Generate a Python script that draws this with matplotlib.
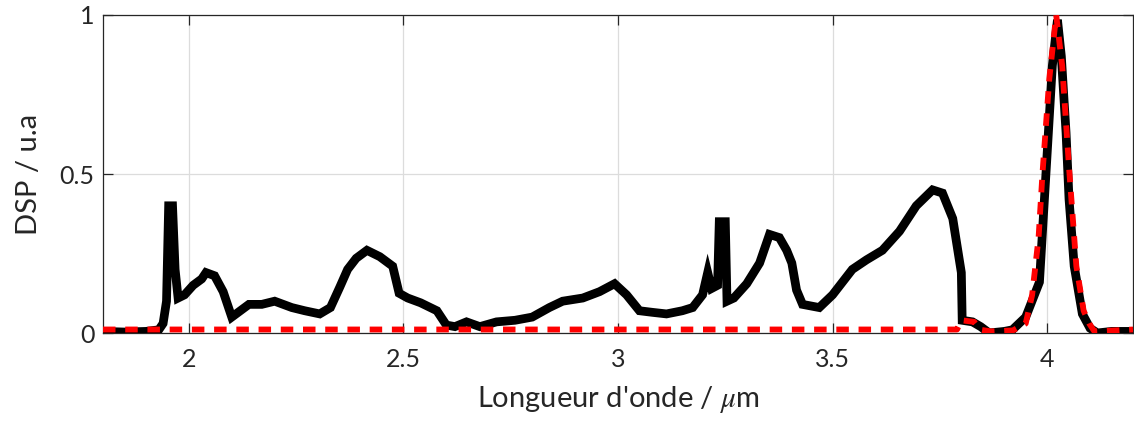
import matplotlib
matplotlib.use("Agg")
import matplotlib.pyplot as plt

# Data
black_x = [1.80, 1.85, 1.90, 1.93, 1.94, 1.948, 1.953, 1.962, 1.968, 1.975, 1.99, 2.01, 2.03, 2.04,
           2.06, 2.08, 2.10, 2.12, 2.14, 2.17, 2.20, 2.24, 2.27, 2.305, 2.33, 2.352, 2.37, 2.39, 2.415,
           2.445, 2.475, 2.49, 2.51, 2.54, 2.578, 2.60, 2.62, 2.647, 2.678, 2.717, 2.76, 2.80, 2.84,
           2.871, 2.918, 2.957, 2.992, 3.02, 3.05, 3.08, 3.113, 3.15, 3.174, 3.197, 3.209, 3.218,
           3.232, 3.236, 3.25, 3.254, 3.27, 3.30, 3.33, 3.353, 3.376, 3.393, 3.405, 3.416, 3.43,
           3.469, 3.50, 3.546, 3.579, 3.616, 3.656, 3.695, 3.733, 3.756, 3.78, 3.80, 3.802, 3.826,
           3.845, 3.865, 3.90, 3.919, 3.95, 3.982, 3.998, 4.012, 4.024, 4.033, 4.044, 4.051, 4.063,
           4.082, 4.10, 4.117, 4.15, 4.20]
black_y = [0.005, 0.003, 0.005, 0.01, 0.03, 0.10, 0.40, 0.40, 0.20, 0.11, 0.12, 0.15, 0.17, 0.19,
           0.18, 0.13, 0.05, 0.07, 0.09, 0.09, 0.10, 0.08, 0.07, 0.06, 0.08, 0.145, 0.20, 0.235, 0.26,
           0.24, 0.21, 0.125, 0.11, 0.095, 0.07, 0.025, 0.02, 0.035, 0.02, 0.035, 0.04, 0.05, 0.08,
           0.10, 0.11, 0.13, 0.155, 0.12, 0.07, 0.065, 0.06, 0.07, 0.08, 0.12, 0.19, 0.14,
           0.15, 0.35, 0.35, 0.10, 0.11, 0.155, 0.22, 0.31, 0.30, 0.26, 0.22, 0.135, 0.09,
           0.08, 0.12, 0.20, 0.23, 0.26, 0.32, 0.40, 0.45, 0.44, 0.36, 0.19, 0.04, 0.035,
           0.02, 0.0, 0.005, 0.01, 0.05, 0.16, 0.52, 0.84, 0.985, 0.87, 0.63, 0.42, 0.21,
           0.06, 0.015, 0.0, 0.005, 0.005]

red_x = [1.80, 3.79, 3.80, 3.83, 3.845, 3.87, 3.92, 3.95, 3.965, 3.98, 3.989, 4.005, 4.021, 4.035,
         4.051, 4.068, 4.085, 4.098, 4.11, 4.20]
red_y = [0.011, 0.011, 0.04, 0.035, 0.01, 0.005, 0.008, 0.03, 0.12, 0.30, 0.50, 0.80, 1.0, 0.84,
         0.52, 0.21, 0.07, 0.03, 0.005, 0.011]

xticks = [2, 2.5, 3, 3.5, 4]
xticklabels = ["2", "2.5", "3", "3.5", "4"]
yticks = [0, 0.5, 1]
yticklabels = ["0", "0.5", "1"]

plt.rcParams['font.family'] = ['Lato', 'DejaVu Sans']
plt.rcParams['mathtext.fontset'] = 'stix'
plt.rcParams['lines.scale_dashes'] = False

fig = plt.figure(figsize=(11.34, 4.23), dpi=100)
ax = fig.add_axes([103/1134, 90/423, 1030/1134, 318/423])

axcol = '#262626'
ax.plot(black_x, black_y, color='black', lw=6.3, solid_joinstyle='miter', zorder=3)
ax.plot(red_x, red_y, color='#ff0000', lw=4.2, dashes=(9.0, 7.0), zorder=4)

ax.set_xlim(1.8, 4.2)
ax.set_ylim(0, 1)
ax.set_xticks(xticks)
ax.set_xticklabels(xticklabels)
ax.set_yticks(yticks)
ax.set_yticklabels(yticklabels)
ax.grid(True, color='#dcdcdc', lw=0.9, zorder=0)
ax.set_axisbelow(True)
ax.tick_params(direction='in', length=7, width=0.9, colors=axcol, labelsize=18,
               top=True, right=True, pad=11)
ax.tick_params(axis='y', pad=6)
for s in ax.spines.values():
    s.set_color(axcol)
    s.set_linewidth(0.9)

ax.set_xlabel("Longueur d'onde / $\\mu$m", fontsize=21, color=axcol, labelpad=9)
ax.set_ylabel("DSP / u.a", fontsize=21, color=axcol, labelpad=13)

fig.savefig("out.png", dpi=100)
